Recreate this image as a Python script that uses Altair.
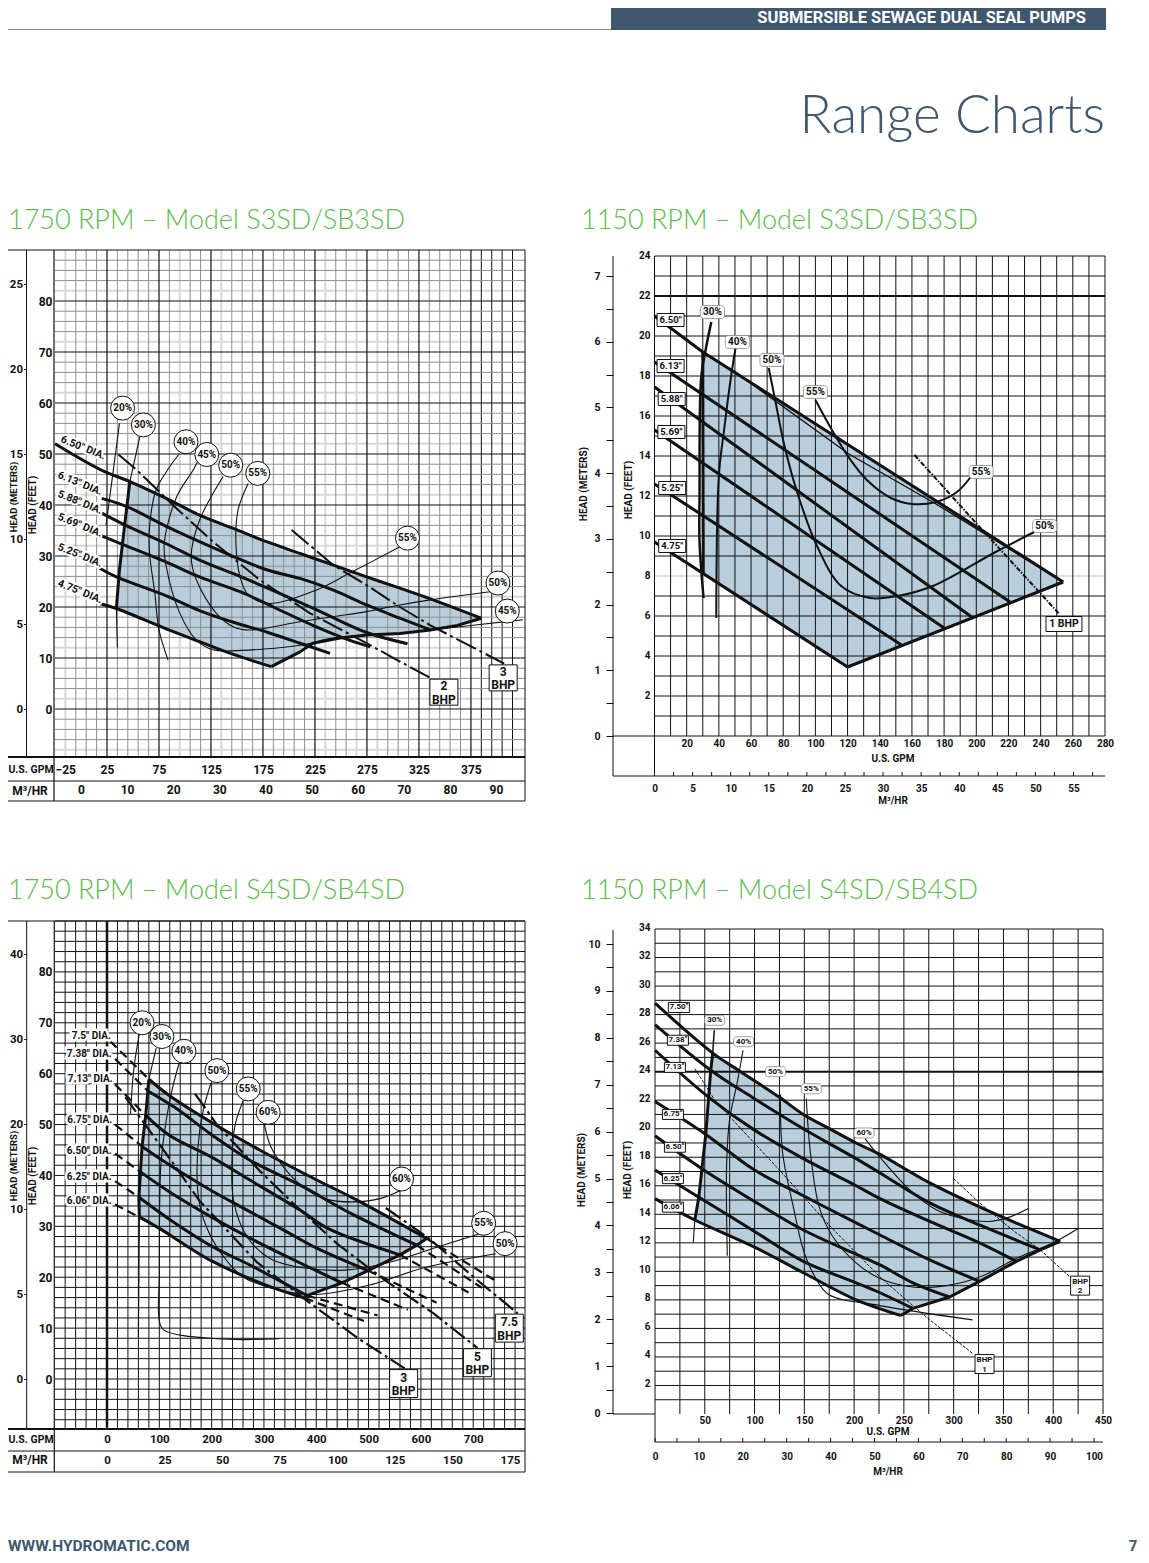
import altair as alt
import pandas as pd

# ---------- page constants (page pixel -> chart pixel is -8) ----------
M = 8
W, H = 1133, 1547
FONT = "Roboto"
THIN = "Lato"
INK = "#111111"
FILL = "#b8cedc"
SLATE = "#40586e"
GREEN = "#5dbb4e"

# ---------- PANEL A : 1750 RPM S3SD (GPM, feet) ----------
a_d650 = [(-25,52),(19,46.9),(47,44.6),(82,41.3),(114,38),(146.6,35.4),(178.5,32.8),(210.6,30.5),(242.7,28.2),(274.7,25.9),(306.7,23.7),(336,21.6),(385,17.8)]
a_d613 = [(20,41.3),(44,39.7),(82,35.8),(114,32.8),(146.6,29.9),(178.5,27.3),(210.6,25.6),(242.7,23.3),(274.7,20.4),(306.7,17.8),(336,15.5)]
a_d588 = [(20,38.4),(42,36.1),(82,32.4),(114,29.2),(153,26),(185,23.2),(223,19.8),(274.7,15),(314,12.8)]
a_d569 = [(18,34.1),(41,32.2),(82,28.8),(114,25.9),(153,23),(185,20),(223,16.4),(258,13.5),(278,12.2)]
a_d525 = [(18,27.6),(34,25.9),(82,22.2),(114,19.3),(146.6,17),(178.5,15.1),(210.6,12.9),(239.5,10.9)]
a_d475 = [(18,20.7),(34,19.7),(82,15.7),(114,13.2),(146.6,10.7),(183,8.3)]
a_right = [(183,8.3),(210.6,11.2),(223,12.9),(249,13.9),(274.7,14.5),(306.7,14.8),(336,15.5),(362,16.4),(385,17.8)]
a_left = [(47,44.6),(42,36.1),(37,27.3),(34,19.7)]
a_top = [(47,44.6),(82,41.3),(114,38),(146.6,35.4),(178.5,32.8),(210.6,30.5),(242.7,28.2),(274.7,25.9),(306.7,23.7),(336,21.6),(385,17.8)]
a_bot = [(34,19.7),(82,15.7),(114,13.2),(146.6,10.7),(183,8.3)]
a_e20a = [(37,56),(26,39),(24,36)]
a_e20b = [(34,19.7),(35,12)]
a_e30 = [(57,53.8),(47,44.6)]
a_e40 = [(94,49.9),(83.3,46.9),(72,42.8),(66,35.8),(66,30.5),(71,22.7),(75,15.5),(83.7,9.6)]
a_e45 = [(112,48.5),(108,46.9),(92,41.6),(80,32.4),(82,27.9),(95,18.8),(111,13.5),(127,11.6),(144,11.4),(210.6,12.5),(242.7,13.9),(306.7,14.8),(336,15.5),(425,17.5)]
a_e50 = [(136.7,45.6),(114,37),(106,29.9),(111,25.3),(130,18.8),(146.6,16.1),(162.6,15.5),(210.6,17.1),(242.7,18.1),(274.7,19.1),(306.7,20.4),(336,21.4),(401,23.2)]
a_e55 = [(160.7,44.2),(151,39),(149,32.5),(153,25.9),(160.7,22.4),(181,20.7),(226,23.3),(258,26.6),(306.7,31.8)]
a_bhp2 = [(36,49.9),(53.5,46.9),(92,39.3),(127,32.8),(172,25.3),(220,18.8),(274.7,12.9),(306.7,9.3),(336,6.1)]
a_bhp3 = [(202.6,35.1),(242.7,28.2),(274.7,24.3),(306.7,20),(336,16.4),(407,8.9)]
a_eff_labels = ["20%","30%","40%","45%","50%","55%","55%","50%","45%"]
a_eff_gpm = [40,60,101,121,144,170,314,401,410]
a_eff_ft = [59,55.7,52.4,49.9,47.8,46.2,33.5,24.7,19.2]
a_dia_labels = ['6.50" DIA.','6.13" DIA.','5.88" DIA.','5.69" DIA.','5.25" DIA.','4.75" DIA.']
a_dia_gpm = [2,-1,-1,-1,-1,-1]
a_dia_ft = [51.2,44.2,40.5,36,30.1,23]
a_box_labels = ["2\nBHP","3\nBHP"]
a_box_gpm = [349,406]
a_box_ft = [3.3,6.1]

# ---------- PANEL B : 1150 RPM S3SD ----------
b_d650 = [(0,21),(30,19.2),(254,7.7)]
b_d613 = [(0,18.7),(221,6.7)]
b_d588 = [(0,17.45),(198,5.9)]
b_d569 = [(0,15.3),(180,5.4)]
b_d525 = [(0,12.6),(153.5,4.55)]
b_d475 = [(0,9.7),(120,3.45)]
b_inner = [(46.7,18.4),(120.8,14.1),(175,11.6),(254,7.7)]
b_poly = [(30,19.2),(254,7.7),(120,3.45),(30,8.1)]
b_right = [(120,3.45),(254,7.7)]
b_e30 = [(35.3,20.7),(32,19.4),(29,17.9),(28,12.1),(28,9.7),(30.5,6.9)]
b_e30b = [(30,19.2),(30.3,8.1)]
b_e40 = [(50.4,19.4),(47.8,18.1),(43.4,15.4),(40,13),(38.4,5.9)]
b_e50 = [(71,18.4),(75,16.8),(80.5,14.6),(89,12.1),(101,9.5),(116,7.5),(134,6.9),(151,7),(173,7.5),(212,9.2),(236,10.2)]
b_e55 = [(100,16.8),(111,15.2),(121,13.9),(132,12.8),(147,11.9),(160,11.6),(175,11.7),(188,12.2),(197,13)]
b_bhp1 = [(161.6,14.05),(201.5,10.5),(251.6,6.1)]
b_eff_labels = ["30%","40%","50%","55%","55%","50%"]
b_eff_gpm = [36,51.5,73,100,203,242.5]
b_eff_ft = [21.2,19.7,18.8,17.2,13.2,10.5]
b_dia_labels = ['6.50"','6.13"','5.88"','5.69"','5.25"','4.75"']
b_dia_gpm = [10,10,10.7,10.5,11,11]
b_dia_ft = [20.8,18.5,16.85,15.2,12.4,9.5]
b_box_labels = ["1 BHP"]
b_box_gpm = [254.5]
b_box_ft = [5.6]

# ---------- PANEL C : 1750 RPM S4SD ----------
c_d750 = [(80,58.9),(119,55.7),(200,50.4),(292,45),(401,39.1),(477,35.2),(611,27.6)]
c_d738 = [(78,56.6),(132,53.2),(200,48),(273,43),(369,38.1),(465,32.6),(592,26.3)]
c_d713 = [(74,51.8),(119,47.9),(200,43.6),(273,39.1),(369,33.2),(422,29.6),(560,24.4)]
c_d675 = [(67,45.7),(119,42.1),(200,37),(273,32.9),(337,29.3),(401,25.7),(499,21.3)]
c_d650 = [(64,40.7),(119,36.8),(200,31.8),(273,27.7),(337,24.4),(449,18.9)]
c_d625 = [(61,35.7),(119,31.4),(200,26.1),(273,22.4),(382,16.4)]
c_d606 = [(62,31.8),(100,29.6),(200,23.2),(300,18.6),(378,15.9)]
c_starts = [(6,66.4),(15.5,62.9),(15.5,57.9),(15.5,50),(15.5,44.3),(15.5,38.9),(15.5,34.3)]
c_ends = [(743,19.3),(717,17.9),(691,17),(630,15),(575,13.6),(517,12.5),(491,11.4)]
c_right = [(378,15.9),(382,16.4),(449,18.9),(499,21.3),(560,24.4),(592,26.3),(611,27.6)]
c_left = [(80,58.9),(74,51.8),(67,45.7),(64,40.7),(61,35.7),(62,31.8)]
c_e20 = [(62,67.9),(51,60.7),(45,52.1)]
c_e30 = [(94,65),(80,58.9)]
c_e30b = [(62,31.8),(60,8.2)]
c_e40 = [(138,62.1),(125,57.1),(113,50.7),(103,42.1),(100,20.7),(100,11.4),(109,9.6),(210,7.9),(329,7.9)]
c_e50 = [(199,58.2),(184,52.9),(174,45.7),(174,36.4),(187,30.7),(216,25),(261,20),(313,17.9),(397,16.6),(507,18.6),(604,21.8),(743,24.6)]
c_e55 = [(260,54.6),(245,50),(239,43.6),(242,35),(268,27.9),(313,23.6),(378,21.8),(455,21.4),(539,22.9),(636,26.1),(714,28.6)]
c_e60 = [(301,50),(313,45.7),(345,40.7),(378,37.5),(417,35.4),(468,34.8),(520,35.4),(562,37.1)]
c_bhp3 = [(35,55.4),(113,44.3),(177,35),(287,22.9),(378,15.7),(481,7.9),(569,2.1)]
c_bhp5 = [(168,56.1),(210,50),(294,40.7),(365,33.6),(442,26.4),(533,19.3),(624,12.9),(708,6.1)]
c_bhp75 = [(533,33.6),(617,27.5),(701,20),(785,12.9)]
c_eff_labels = ["20%","30%","40%","50%","55%","60%","60%","55%","50%"]
c_eff_gpm = [67,105,147,210,270,308,563,720,761]
c_eff_ft = [70,67.3,64.4,60.6,57,52.4,39.3,30.6,26.6]
c_dia_labels = ['7.5" DIA.','7.38" DIA.','7.13" DIA.','6.75" DIA.','6.50" DIA.','6.25" DIA.','6.06" DIA.']
c_dia_gpm = [-30,-34,-32,-33,-34,-34,-34]
c_dia_ft = [67.5,63.8,58.9,50.9,44.8,39.6,34.9]
c_box_labels = ["3\nBHP","5\nBHP","7.5\nBHP"]
c_box_gpm = [567,708,769]
c_box_ft = [-0.9,3.2,10]

# ---------- PANEL D : 1150 RPM S4SD ----------
d_d750 = [(0,28.8),(58,25.3),(86,24),(125,22.2),(149,21),(178,19.9),(202,19),(226,18.2),(276,16.2),(336,14.2),(407,12.1)]
d_d738 = [(0,27.3),(56,24.1),(100,22.1),(149,20),(202,17.9),(226,16.9),(276,14.8),(326,13.25),(387,11.5)]
d_d713 = [(0,25.5),(54,22.2),(100,19.9),(149,17.9),(202,16),(226,15.1),(276,13.5),(326,12),(363,10.7)]
d_d675 = [(0,21.9),(51,19.6),(100,17.1),(149,15.3),(202,13.4),(226,12.55),(276,10.8),(326,9.3)]
d_d650 = [(0,19.5),(47,17.2),(100,14.9),(149,12.9),(202,11.2),(226,10.45),(259,9.2),(296,8.2)]
d_d625 = [(0,17.1),(44,15.2),(100,12.8),(149,10.7),(202,9.2),(226,8.5),(259,7.4)]
d_d606 = [(0,15.1),(40,13.6),(100,11.7),(149,9.9),(202,8),(247,6.9)]
d_right = [(247,6.9),(259,7.4),(296,8.2),(326,9.3),(363,10.7),(387,11.5),(407,12.1)]
d_left = [(58,25.3),(56,24.1),(51,19.6),(44,15.2),(40,13.6)]
d_e30 = [(59.5,26.9),(58,25.3)]
d_e30b = [(40,13.6),(38.4,12)]
d_e40 = [(88.4,25.5),(82.5,23.2),(75,20.7),(72,17.6),(72.6,11.1)]
d_e50 = [(126,22.4),(128,18.4),(139,14.5),(149,11.5),(160,9.7),(174,8.4),(226,7.6),(319,6.6)]
d_e55 = [(152,22.1),(156,18.4),(165,14.5),(178,12.5),(202,10.6),(226,9.5),(259,8.9),(293,9),(326,9.6),(366,11),(400,12),(425,13)]
d_e60 = [(211,19.3),(226,18),(259,15.5),(283,14.3),(309,13.7),(336,13.5),(356,13.8),(375,14.4)]
d_bhp1 = [(40,24.2),(61,21.9),(125,17.1),(174,13.3),(226,9.6),(259,7.6),(276,6.6),(320,4.2)]
d_bhp2 = [(300,16.5),(326,14.8),(359,12.9),(387,11.5),(417,9.6),(424,9.1)]
d_eff_labels = ["30%","40%","50%","55%","60%"]
d_eff_gpm = [60,89,121,157,210]
d_eff_ft = [27.6,26.1,24,22.8,19.7]
d_dia_labels = ['7.50"','7.38"','7.13"','6.75"','6.50"','6.25"','6.06"']
d_dia_gpm = [24,23,20,18,20,18,18]
d_dia_ft = [28.5,26.2,24.3,21,18.7,16.5,14.5]
d_box_labels = ["BHP\n2","BHP\n1"]
d_box_gpm = [427,331]
d_box_ft = [9,3.5]

# ---------- tick values ----------
a_gpm_ticks = [-25,25,75,125,175,225,275,325,375]
a_m3_ticks = [0,10,20,30,40,50,60,70,80,90]
a_ft_ticks = [0,10,20,30,40,50,60,70,80]
a_m_ticks = [0,5,10,15,20,25]
b_gpm_ticks = list(range(20,281,20))
b_m3_ticks = [i*2.5 for i in range(0,24)]
b_ft_ticks = list(range(2,25,2))
b_m_ticks = [i*0.5 for i in range(0,15)]
c_gpm_ticks = [0,100,200,300,400,500,600,700]
c_m3_ticks = [0,25,50,75,100,125,150,175]
c_ft_ticks = a_ft_ticks
c_m_ticks = [0,5,10,20,30,40]
d_gpm_ticks = list(range(50,451,50))
d_m3_ticks = [i*5 for i in range(0,21)]
d_ft_ticks = list(range(2,35,2))
d_m_ticks = [i*0.5 for i in range(0,21)]

# ---------- helpers ----------
def p(v):
    return v - M

def sc(dom, page_rng):
    return alt.Scale(domain=list(dom), range=[p(r) for r in page_rng], zero=False, nice=False, clamp=False)

layers = []

def rules_v(vals, lo, hi, xs, ys, color=INK, width=1.0):
    df = pd.DataFrame({"v": vals, "lo": lo, "hi": hi})
    layers.append(alt.Chart(df).mark_rule(color=color, strokeWidth=width).encode(
        x=alt.X("v:Q", scale=xs, axis=None), y=alt.Y("lo:Q", scale=ys, axis=None), y2=alt.Y2("hi")))

def rules_h(vals, lo, hi, xs, ys, color=INK, width=1.0):
    df = pd.DataFrame({"v": vals, "lo": lo, "hi": hi})
    layers.append(alt.Chart(df).mark_rule(color=color, strokeWidth=width).encode(
        y=alt.Y("v:Q", scale=ys, axis=None), x=alt.X("lo:Q", scale=xs, axis=None), x2=alt.X2("hi")))

def curves(series, xs, ys, width=1.2, color=INK, dash=None, interp="linear", fill=None):
    rows = []
    for name, pts in series.items():
        for i, (g, f) in enumerate(pts):
            rows.append({"gpm": g, "ft": f, "name": name, "i": i})
    kw = dict(strokeWidth=width, stroke=color, interpolate=interp, strokeJoin="round")
    if dash:
        kw["strokeDash"] = dash
    if fill:
        kw["fill"] = fill
        kw["strokeWidth"] = 0
    layers.append(alt.Chart(pd.DataFrame(rows)).mark_line(**kw).encode(
        x=alt.X("gpm:Q", scale=xs, axis=None), y=alt.Y("ft:Q", scale=ys, axis=None),
        detail="name:N", order=alt.Order("i:Q")))

def marks_text(labels, gx, gy, xs, ys, size=10, angle=0, halo=0, color=INK, weight="bold", dy=0):
    df = pd.DataFrame({"t": labels, "gpm": gx, "ft": gy})
    enc = dict(x=alt.X("gpm:Q", scale=xs, axis=None), y=alt.Y("ft:Q", scale=ys, axis=None), text="t:N")
    common = dict(font=FONT, fontSize=size, fontWeight=weight, align="center", baseline="middle",
                  angle=angle, lineBreak="\n", dy=dy, lineHeight=size + 1.5)
    if halo:
        layers.append(alt.Chart(df).mark_text(color="white", stroke="white", strokeWidth=halo, **common).encode(**enc))
    layers.append(alt.Chart(df).mark_text(color=color, **common).encode(**enc))

def circles(gx, gy, xs, ys, diameter=24):
    df = pd.DataFrame({"gpm": gx, "ft": gy})
    layers.append(alt.Chart(df).mark_point(filled=True, fill="white", stroke=INK, strokeWidth=1, opacity=1,
                                           size=diameter**2, shape="circle").encode(
        x=alt.X("gpm:Q", scale=xs, axis=None), y=alt.Y("ft:Q", scale=ys, axis=None)))

def boxes(gx, gy, xs, ys, w, h, radius=0, stroke=INK, sw=1.0):
    df = pd.DataFrame({"gpm": gx, "ft": gy})
    layers.append(alt.Chart(df).mark_rect(width=w, height=h, fill="white", stroke=stroke, strokeWidth=sw,
                                          cornerRadius=radius).encode(
        x=alt.X("gpm:Q", scale=xs, axis=None), y=alt.Y("ft:Q", scale=ys, axis=None)))

def left_axis(vals, scale, x_page, size=12, pad=3, tick=0, label_offset=0, half=False):
    kw = dict(orient="left", offset=-p(x_page), values=vals, domain=False, ticks=tick > 0, grid=False, title=None,
              labelFont=FONT, labelFontSize=size, labelFontWeight="bold", labelColor=INK, labelPadding=pad,
              labelOverlap=False, labelBound=False, labelFlush=False, labelOffset=label_offset)
    if tick > 0:
        kw.update(tickSize=tick, tickColor=INK, tickWidth=1)
    if half:
        kw["labelExpr"] = "datum.value % 1 == 0 ? format(datum.value, 'd') : ''"
    else:
        kw["format"] = "d"
    df = pd.DataFrame({"v": vals})
    layers.append(alt.Chart(df).mark_point(opacity=0).encode(y=alt.Y("v:Q", scale=scale, axis=alt.Axis(**kw))))

def bottom_axis(vals, scale, y_page, size=12, pad=3, flush=False, every=None):
    kw = dict(orient="bottom", offset=p(y_page) - H, values=vals, domain=False, ticks=False, grid=False, title=None,
              labelFont=FONT, labelFontSize=size, labelFontWeight="bold", labelColor=INK, labelPadding=pad,
              labelOverlap=False, labelBound=False, labelFlush=flush, labelAngle=0)
    if every:
        kw["labelExpr"] = "datum.value %% %d == 0 ? format(datum.value, 'd') : ''" % every
    else:
        kw["format"] = "d"
    df = pd.DataFrame({"v": vals})
    layers.append(alt.Chart(df).mark_point(opacity=0).encode(x=alt.X("v:Q", scale=scale, axis=alt.Axis(**kw))))

def seg(x1, y1, x2, y2, width=1.0, color=INK):
    layers.append(alt.Chart(pd.DataFrame({"a": [0]})).mark_rule(color=color, strokeWidth=width).encode(
        x=alt.value(p(x1)), x2=alt.value(p(x2)), y=alt.value(p(y1)), y2=alt.value(p(y2))))

def label(s, x, y, size=11, angle=0, color=INK, weight="bold", align="center", font=FONT):
    layers.append(alt.Chart(pd.DataFrame({"a": [0]})).mark_text(
        text=s, font=font, fontSize=size, fontWeight=weight, angle=angle, color=color, align=align, baseline="middle"
    ).encode(x=alt.value(p(x)), y=alt.value(p(y))))

def frange(a, b, step):
    out, v = [], a
    while v <= b + 1e-9:
        out.append(v)
        v += step
    return out

# ---------- page furniture ----------
layers.append(alt.Chart(pd.DataFrame({"a": [0]})).mark_rect(color=SLATE).encode(
    x=alt.value(p(611)), x2=alt.value(p(1106)), y=alt.value(0), y2=alt.value(p(30))))
seg(8, 29.5, 611, 29.5, 1, "#8a8a8a")
label("SUBMERSIBLE SEWAGE DUAL SEAL PUMPS", 1086, 18, 16.5, color="white", align="right")
label("Range Charts", 1105, 117, 53, color=SLATE, weight=300, align="right", font=THIN)
for t, x, y in [("1750 RPM – Model S3SD/SB3SD", 8, 221), ("1150 RPM – Model S3SD/SB3SD", 581, 221),
                ("1750 RPM – Model S4SD/SB4SD", 8, 891), ("1150 RPM – Model S4SD/SB4SD", 581, 891)]:
    label(t, x, y, 27, color=GREEN, weight=300, align="left", font=THIN)
label("WWW.HYDROMATIC.COM", 8, 1546, 15.5, color=SLATE, align="left")
label("7", 1133, 1546, 15, color=SLATE)

# ---------- panel A ----------
xa = sc([-25, 427], [55, 525]); ya = sc([0, 90], [709, 250])
xa_m = sc([0, 90], [81, 496]); ya_m = sc([0, 25], [709, 284])
light_v = [-15, 95, 135, 235, 265, 285]
rules_v(light_v, [-9.4]*len(light_v), [90]*len(light_v), xa, ya, "#d8d8d8", 2)
light_h = list(range(-8, 90, 10))
rules_h(light_h, [-25]*len(light_h), [427]*len(light_h), xa, ya, "#d8d8d8", 2)
curves({"region": a_top + a_right[::-1] + a_bot[::-1] + a_left[::-1]}, xa, ya, fill=FILL)
minor_v = [v for v in range(-25, 376, 10) if (v + 25) % 50 != 0 and v not in light_v]
rules_v(minor_v, [-9.4]*len(minor_v), [90]*len(minor_v), xa, ya, "#8f8f8f", 1)
ext_v = [385, 395, 405, 415]
rules_v(ext_v, [-9.4]*4, [90]*4, xa, ya, INK, 1)
minor_h = [v for v in range(-8, 90, 2) if v % 10 != 0 and v not in light_h]
rules_h(minor_h, [-25]*len(minor_h), [427]*len(minor_h), xa, ya, "#8f8f8f", 1)
maj_v = list(range(25, 376, 50))
rules_v(maj_v, [-9.4]*len(maj_v), [90]*len(maj_v), xa, ya, INK, 1.2)
maj_h = list(range(0, 81, 10))
rules_h(maj_h, [-25]*len(maj_h), [427]*len(maj_h), xa, ya, INK, 1.2)
curves({"20a": a_e20a, "20b": a_e20b, "30": a_e30, "40": a_e40, "45": a_e45, "50": a_e50, "55": a_e55},
       xa, ya, 1.1, interp="catmull-rom")
curves({"2": a_bhp2, "3": a_bhp3}, xa, ya, 2, dash=[22, 4, 3, 4])
curves({"650": a_d650, "613": a_d613, "588": a_d588, "569": a_d569, "525": a_d525, "475": a_d475},
       xa, ya, 3, interp="catmull-rom")
curves({"r": a_right, "l": a_left}, xa, ya, 3)
marks_text(a_dia_labels, a_dia_gpm, a_dia_ft, xa, ya, 10.5, angle=22, halo=4)
circles(a_eff_gpm, a_eff_ft, xa, ya, 24)
marks_text(a_eff_labels, a_eff_gpm, a_eff_ft, xa, ya, 10)
boxes(a_box_gpm, a_box_ft, xa, ya, 28, 26)
marks_text(a_box_labels, a_box_gpm, a_box_ft, xa, ya, 12, dy=-6)
left_axis(a_m_ticks, ya_m, 26.5, 11.5, pad=1, tick=3)
left_axis(a_ft_ticks, ya, 54, 12, pad=2)
bottom_axis(a_gpm_ticks, xa, 757, 12, pad=7, flush=True)
bottom_axis(a_m3_ticks, xa_m, 781, 12, pad=3)
seg(8, 250, 525, 250); seg(8, 757, 525, 757, 2); seg(8, 781, 525, 781); seg(8, 801, 525, 801)
seg(54, 250, 54, 801, 1.2); seg(26.5, 250, 26.5, 757); seg(525, 250, 525, 801)
label("U.S. GPM", 31, 770, 10.5); label("M³/HR", 30, 791, 12)
label("HEAD (METERS)", 14, 497, 9.5, angle=270); label("HEAD (FEET)", 33, 505, 10, angle=270)

# ---------- panel B ----------
xb = sc([0, 280], [654.5, 1105]); yb = sc([0, 24], [736, 256])
xb_m = sc([0, 59], [654.5, 1104]); yb_m = sc([0, 7], [736, 276])
rules_h([8], [0], [280], xb, yb, "#d5d5d5", 1.5)
curves({"region": b_poly}, xb, yb, fill=FILL)
bv = list(range(0, 281, 10))
rules_v(bv, [0]*len(bv), [24]*len(bv), xb, yb, INK, 1)
bh = [v for v in range(1, 25) if v not in (8, 22)]
rules_h(bh, [0]*len(bh), [280]*len(bh), xb, yb, INK, 1)
rules_h([22], [0], [280], xb, yb, INK, 2)
curves({"40": b_e40, "50": b_e50, "55": b_e55}, xb, yb, 2, interp="catmull-rom")
curves({"inner": b_inner}, xb, yb, 1.4)
curves({"30": b_e30}, xb, yb, 2.5, interp="catmull-rom")
curves({"1": b_bhp1}, xb, yb, 2, dash=[5, 1.5, 1.5, 1.5])
curves({"650": b_d650, "613": b_d613, "588": b_d588, "569": b_d569, "525": b_d525, "475": b_d475,
        "r": b_right, "l": b_e30b}, xb, yb, 3)
boxes(b_eff_gpm, b_eff_ft, xb, yb, 24, 13, radius=3, stroke="#888888", sw=0.8)
marks_text(b_eff_labels, b_eff_gpm, b_eff_ft, xb, yb, 10)
boxes(b_dia_gpm, b_dia_ft, xb, yb, 27, 13)
marks_text(b_dia_labels, b_dia_gpm, b_dia_ft, xb, yb, 9.5)
boxes(b_box_gpm, b_box_ft, xb, yb, 36, 15)
marks_text(b_box_labels, b_box_gpm, b_box_ft, xb, yb, 10.5)
left_axis(b_m_ticks, yb_m, 613, 10.5, pad=6, tick=7, half=True)
left_axis(b_ft_ticks, yb, 654, 10, pad=4, label_offset=-1)
bottom_axis(b_gpm_ticks, xb, 736, 10, pad=2)
bottom_axis(b_m3_ticks, xb_m, 776, 10, pad=7, every=5)
rt = pd.DataFrame({"v": b_m3_ticks})
layers.append(alt.Chart(rt).mark_rule(color=INK, strokeWidth=1).encode(
    x=alt.X("v:Q", scale=xb_m, axis=None), y=alt.value(p(776)), y2=alt.value(p(772))))
seg(613, 256, 613, 776); seg(654.5, 736, 654.5, 776); seg(613, 776, 1105, 776); seg(613, 736, 1105, 736)
label("U.S. GPM", 893, 759, 10); label("M³/HR", 893, 801, 10)
label("HEAD (METERS)", 584, 484, 10, angle=270); label("HEAD (FEET)", 629, 490, 10, angle=270)

# ---------- panel C ----------
xc = sc([-99.4, 799], [55, 525]); yc = sc([0, 90], [1379, 921])
xc_m = sc([0, 175], [107, 510])
yc_m = sc(c_m_ticks, [1379, 1294, 1209, 1124, 1039, 954])
curves({"region": c_d750 + c_right[::-1] + c_d606[::-1] + c_left[::-1]}, xc, yc, fill=FILL)
cv = [v for v in frange(-80, 798, 20) if v != 0]
rules_v(cv, [-9.6]*len(cv), [90]*len(cv), xc, yc, INK, 1)
rules_v([0], [-9.6], [90], xc, yc, INK, 2.5)
ch = frange(-8, 90, 2)
rules_h(ch, [-99.4]*len(ch), [799]*len(ch), xc, yc, INK, 1)
curves({"20": c_e20, "30": c_e30, "30b": c_e30b, "40": c_e40, "50": c_e50, "55": c_e55, "60": c_e60},
       xc, yc, 1.1, interp="catmull-rom")
curves({"3": c_bhp3, "5": c_bhp5, "7.5": c_bhp75}, xc, yc, 2.2, dash=[18, 4, 3, 4])
cs = [c_d750, c_d738, c_d713, c_d675, c_d650, c_d625, c_d606]
curves({str(i): [c_starts[i], d[0]] for i, d in enumerate(cs)}, xc, yc, 2.2, dash=[9, 5])
curves({str(i): [d[-1], c_ends[i]] for i, d in enumerate(cs)}, xc, yc, 2.2, dash=[9, 5])
curves({"750": c_d750, "738": c_d738, "713": c_d713, "675": c_d675, "650": c_d650, "625": c_d625, "606": c_d606},
       xc, yc, 3, interp="catmull-rom")
curves({"r": c_right, "l": c_left}, xc, yc, 3)
marks_text(c_dia_labels, c_dia_gpm, c_dia_ft, xc, yc, 10, halo=5)
circles(c_eff_gpm, c_eff_ft, xc, yc, 24)
marks_text(c_eff_labels, c_eff_gpm, c_eff_ft, xc, yc, 10)
boxes(c_box_gpm, c_box_ft, xc, yc, 28, 28)
marks_text(c_box_labels, c_box_gpm, c_box_ft, xc, yc, 12, dy=-6)
left_axis(c_m_ticks, yc_m, 26.7, 11.5, pad=1, tick=3)
left_axis(c_ft_ticks, yc, 54, 12, pad=2)
bottom_axis(c_gpm_ticks, xc, 1429, 11.5, pad=4)
bottom_axis(c_m3_ticks, xc_m, 1451, 11.5, pad=3)
seg(8, 921, 525, 921); seg(8, 1429, 525, 1429, 2); seg(8, 1451, 525, 1451); seg(8, 1472, 525, 1472)
seg(54.3, 921, 54.3, 1472, 1.2); seg(26.7, 921, 26.7, 1429); seg(525, 921, 525, 1472)
label("U.S. GPM", 31, 1440, 10.5); label("M³/HR", 30, 1460, 12)
label("HEAD (METERS)", 14, 1166, 9.5, angle=270); label("HEAD (FEET)", 33, 1176, 10, angle=270)

# ---------- panel D ----------
xd = sc([0, 450], [655, 1103]); yd = sc([0, 34], [1414, 929])
xd_m = sc([0, 100], [655, 1094]); yd_m = sc([0, 10], [1413, 944])
curves({"region": d_d750[1:] + d_right[::-1] + d_d606[1:][::-1] + d_left[::-1]}, xd, yd, fill=FILL)
dv = list(range(0, 451, 25))
rules_v(dv, [0]*len(dv), [34]*len(dv), xd, yd, INK, 1)
dh = [v for v in range(1, 35) if v != 24]
rules_h(dh, [0]*len(dh), [450]*len(dh), xd, yd, INK, 1)
rules_h([24], [0], [450], xd, yd, INK, 2)
curves({"30b": d_e30b, "40": d_e40, "50": d_e50, "55": d_e55, "60": d_e60}, xd, yd, 1.1, interp="catmull-rom")
curves({"30": d_e30}, xd, yd, 1.5)
curves({"1": d_bhp1, "2": d_bhp2}, xd, yd, 1, dash=[3, 1.5])
curves({"750": d_d750, "738": d_d738, "713": d_d713, "675": d_d675, "650": d_d650, "625": d_d625, "606": d_d606},
       xd, yd, 3, interp="catmull-rom")
curves({"r": d_right, "l": d_left}, xd, yd, 3)
boxes(d_eff_gpm, d_eff_ft, xd, yd, 20, 10, radius=3, stroke="#888888", sw=0.8)
marks_text(d_eff_labels, d_eff_gpm, d_eff_ft, xd, yd, 8)
boxes(d_dia_gpm, d_dia_ft, xd, yd, 21, 10)
marks_text(d_dia_labels, d_dia_gpm, d_dia_ft, xd, yd, 8)
boxes(d_box_gpm, d_box_ft, xd, yd, 19, 19)
marks_text(d_box_labels, d_box_gpm, d_box_ft, xd, yd, 8, dy=-4)
left_axis(d_m_ticks, yd_m, 613, 10.5, pad=6, tick=7, half=True)
left_axis(d_ft_ticks, yd, 654, 10, pad=4, label_offset=-2)
bottom_axis(d_gpm_ticks, xd, 1414, 10, pad=1)
bottom_axis(d_m3_ticks, xd_m, 1442, 10, pad=9, every=10)
dt = pd.DataFrame({"v": d_m3_ticks})
layers.append(alt.Chart(dt).mark_rule(color=INK, strokeWidth=1).encode(
    x=alt.X("v:Q", scale=xd_m, axis=None), y=alt.value(p(1442)), y2=alt.value(p(1438))))
seg(613, 930, 613, 1414); seg(655, 1414, 655, 1442); seg(655, 1442, 1103, 1442); seg(613, 1414, 655, 1414)
label("U.S. GPM", 888, 1432, 10); label("M³/HR", 888, 1472, 10)
label("HEAD (METERS)", 582, 1170, 10, angle=270); label("HEAD (FEET)", 628, 1170, 10, angle=270)

# ---------- assemble ----------
chart = (
    alt.layer(*layers)
    .resolve_scale(x="independent", y="independent")
    .resolve_axis(x="independent", y="independent")
    .properties(width=W, height=H, padding=0, autosize=alt.AutoSizeParams(type="none"), background="white")
    .configure_view(stroke=None)
)
chart.save("out.html", embed_options={"renderer": "svg", "actions": False})
